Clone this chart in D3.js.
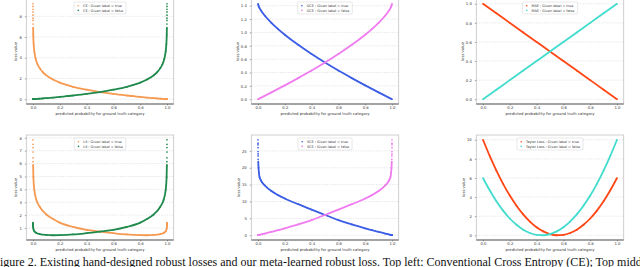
<!DOCTYPE html>
<html>
<head>
<meta charset="utf-8">
<script src="https://cdn.jsdelivr.net/npm/d3@7"></script>
<style>
  html, body { margin: 0; padding: 0; background: #fff; }
  svg { display: block; }
</style>
</head>
<body>
<svg id="chart" width="640" height="267"></svg>
<script>
// -------------------------------------------------------------------------
// Data

const xTickValues = [0.0, 0.2, 0.4, 0.6, 0.8, 1.0];
const xLabel = 'predicted probability for ground truth category';
const yLabel = 'loss value';

// CE
const ceProb = [0.0001, 0.00013, 0.00017, 0.00022, 0.0003, 0.0004, 0.0005, 0.0007, 0.001, 0.002, 0.005, 0.01, 0.02,
  0.035, 0.05, 0.075, 0.1, 0.15, 0.2, 0.25, 0.3, 0.4, 0.5, 0.6, 0.7, 0.75, 0.8, 0.85, 0.9, 0.925, 0.95, 0.965,
  0.98, 0.99, 0.995, 0.998, 0.999, 0.9993, 0.9995, 0.9996, 0.9997, 0.99978, 0.99983, 0.99987, 0.9999];
const ceLossTrue = [9.21, 8.95, 8.68, 8.42, 8.11, 7.82, 7.6, 7.26, 6.91, 6.21, 5.3, 4.61, 3.91,
  3.35, 3.0, 2.59, 2.3, 1.9, 1.61, 1.39, 1.2, 0.92, 0.69, 0.51, 0.36, 0.29, 0.22, 0.16, 0.11, 0.08, 0.05, 0.04,
  0.02, 0.01, 0.005, 0.002, 0.001, 0.0007, 0.0005, 0.0004, 0.0003, 0.0002, 0.0002, 0.0001, 0.0001];
const ceLossFalse = [0.0001, 0.0001, 0.0002, 0.0002, 0.0003, 0.0004, 0.0005, 0.0007, 0.001, 0.002, 0.005, 0.01, 0.02,
  0.04, 0.05, 0.08, 0.11, 0.16, 0.22, 0.29, 0.36, 0.51, 0.69, 0.92, 1.2, 1.39, 1.61, 1.9, 2.3, 2.59, 3.0, 3.35,
  3.91, 4.61, 5.3, 6.21, 6.91, 7.26, 7.6, 7.82, 8.11, 8.42, 8.68, 8.95, 9.21];
const ceYTicks = [0, 2, 4, 6, 8];

// GCE
const gceProbTrue = [0.0, 0.005, 0.01, 0.02, 0.05, 0.1, 0.15, 0.2, 0.3, 0.4, 0.5, 0.6, 0.7, 0.8, 0.9, 1.0];
const gceLossTrue = [1.429, 1.394, 1.372, 1.336, 1.253, 1.144, 1.05, 0.966, 0.814, 0.676, 0.549, 0.429, 0.316, 0.207, 0.102, 0.0];
const gceProbFalse = [0.0, 0.1, 0.2, 0.3, 0.4, 0.5, 0.6, 0.7, 0.8, 0.85, 0.9, 0.95, 0.98, 0.99, 0.995, 1.0];
const gceLossFalse = [0.0, 0.102, 0.207, 0.316, 0.429, 0.549, 0.676, 0.814, 0.966, 1.05, 1.144, 1.253, 1.336, 1.372, 1.394, 1.429];
const gceYTicks = [0.0, 0.2, 0.4, 0.6, 0.8, 1.0, 1.2, 1.4];

// MAE
const maeProb = [0.0, 0.1, 0.2, 0.3, 0.4, 0.5, 0.6, 0.7, 0.8, 0.9, 1.0];
const maeLossTrue = [1.0, 0.9, 0.8, 0.7, 0.6, 0.5, 0.4, 0.3, 0.2, 0.1, 0.0];
const maeLossFalse = [0.0, 0.1, 0.2, 0.3, 0.4, 0.5, 0.6, 0.7, 0.8, 0.9, 1.0];
const maeYTicks = [0.0, 0.2, 0.4, 0.6, 0.8, 1.0];

// LS
const lsProb = [0.0001, 0.00015, 0.0002, 0.0003, 0.0005, 0.0007, 0.001, 0.003, 0.01, 0.025, 0.05, 0.1, 0.15, 0.2,
  0.3, 0.4, 0.5, 0.6, 0.7, 0.8, 0.85, 0.9, 0.95, 0.975, 0.99, 0.997, 0.999, 0.9993, 0.9995, 0.9997, 0.9998,
  0.99985, 0.9999];
const lsLossTrue = [7.85, 7.5, 7.25, 6.9, 6.45, 6.15, 5.9, 4.95, 3.95, 3.2, 2.65, 2.05, 1.7, 1.42,
  1.08, 0.85, 0.72, 0.6, 0.5, 0.45, 0.44, 0.46, 0.53, 0.62, 0.75, 0.93, 1.09, 1.14, 1.2, 1.26, 1.33,
  1.37, 1.42];
const lsLossFalse = [1.42, 1.37, 1.33, 1.26, 1.2, 1.14, 1.09, 0.93, 0.75, 0.62, 0.53, 0.46, 0.44, 0.45,
  0.5, 0.6, 0.72, 0.85, 1.08, 1.42, 1.7, 2.05, 2.65, 3.2, 3.95, 4.95, 5.9, 6.15, 6.45, 6.9, 7.25,
  7.5, 7.85];
const lsYTicks = [1, 2, 3, 4, 5, 6, 7, 8];

// SCE
const sceProb = [0.0001, 0.00015, 0.0002, 0.0003, 0.0005, 0.0007, 0.001, 0.0015, 0.002, 0.004, 0.007, 0.012, 0.02,
  0.03, 0.05, 0.1, 0.15, 0.2, 0.3, 0.4, 0.5, 0.6, 0.7, 0.8, 0.85, 0.9, 0.95, 0.97, 0.98, 0.988, 0.993, 0.996,
  0.998, 0.9985, 0.999, 0.9993, 0.9995, 0.9997, 0.9998, 0.99985, 0.9999];
const sceLossTrue = [28.3, 27.3, 26.8, 26.0, 24.8, 24.1, 23.5, 22.5, 21.8, 20.0, 18.5, 17.2, 16.4,
  15.7, 14.8, 13.1, 11.9, 10.9, 9.2, 7.6, 6.0, 4.5, 3.2, 2.05, 1.5, 1.0, 0.5, 0.3, 0.2, 0.12, 0.07, 0.04,
  0.02, 0.015, 0.01, 0.007, 0.005, 0.003, 0.002, 0.0015, 0.001];
const sceLossFalse = [0.001, 0.0015, 0.002, 0.003, 0.005, 0.007, 0.01, 0.015, 0.02, 0.04, 0.07, 0.12, 0.2,
  0.3, 0.5, 1.0, 1.5, 2.05, 3.2, 4.5, 6.0, 7.6, 9.2, 10.9, 11.9, 13.1, 14.8, 15.7, 16.4, 17.2, 18.5, 20.0,
  21.8, 22.5, 23.5, 24.1, 24.8, 26.0, 26.8, 27.3, 28.3];
const sceYTicks = [0, 5, 10, 15, 20, 25];

// Taylor
const taylorProb = [0.0, 0.05, 0.1, 0.15, 0.2, 0.25, 0.3, 0.35, 0.4, 0.45, 0.5,
  0.55, 0.6, 0.65, 0.7, 0.75, 0.8, 0.85, 0.9, 0.95, 1.0];
const taylorLossTrue = [10.0, 8.31, 6.77, 5.39, 4.16, 3.1, 2.19, 1.44, 0.84, 0.41, 0.13,
  0.01, 0.04, 0.24, 0.59, 1.1, 1.76, 2.59, 3.57, 4.71, 6.0];
const taylorLossFalse = [6.0, 4.71, 3.57, 2.59, 1.76, 1.1, 0.59, 0.24, 0.04, 0.01, 0.13,
  0.41, 0.84, 1.44, 2.19, 3.1, 4.16, 5.39, 6.77, 8.31, 10.0];
const taylorYTicks = [0, 2, 4, 6, 8, 10];

const caption = 'Figure 2. Existing hand-designed robust losses and our meta-learned robust loss. ' +
  'Top left: Conventional Cross Entropy (CE); Top middle: Generalized Cross Entropy (GCE)';

// -------------------------------------------------------------------------
// Layout

const colors = {
  orange: '#f69a52', green: '#1f8a4c', blue: '#3b5de6',
  violet: '#f07cf0', red: '#ff4614', turquoise: '#42dccd'
};
const panelWidth = 147.4;
const panelHeight = 105;
const colLeft = [26.3, 251.3, 476.3];
const rowTop = [-1, 135];
const tickFont = 3.8;
const legendFont = 3.4;
const font = '"DejaVu Sans", sans-serif';

const fmt1 = d3.format('.1f');
const fmtInt = d3.format('d');

// lineMax: above this the scatter gets sparse, so only dots are drawn there
const panels = [
  { row: 0, col: 0, yTicks: ceYTicks, yFormat: fmtInt, lineMax: 7.0, series: [
    { prob: ceProb, loss: ceLossTrue, color: colors.orange, label: 'CE : Given label = true' },
    { prob: ceProb, loss: ceLossFalse, color: colors.green, label: 'CE : Given label = false' }] },
  { row: 0, col: 1, yTicks: gceYTicks, yFormat: fmt1, lineMax: Infinity, series: [
    { prob: gceProbTrue, loss: gceLossTrue, color: colors.blue, label: 'GCE : Given label = true' },
    { prob: gceProbFalse, loss: gceLossFalse, color: colors.violet, label: 'GCE : Given label = false' }] },
  { row: 0, col: 2, yTicks: maeYTicks, yFormat: fmt1, lineMax: Infinity, series: [
    { prob: maeProb, loss: maeLossTrue, color: colors.red, label: 'MAE : Given label = true' },
    { prob: maeProb, loss: maeLossFalse, color: colors.turquoise, label: 'MAE : Given label = false' }] },
  { row: 1, col: 0, yTicks: lsYTicks, yFormat: fmtInt, lineMax: 6.0, series: [
    { prob: lsProb, loss: lsLossTrue, color: colors.orange, label: 'LS : Given label = true' },
    { prob: lsProb, loss: lsLossFalse, color: colors.green, label: 'LS : Given label = false' }] },
  { row: 1, col: 1, yTicks: sceYTicks, yFormat: fmtInt, lineMax: 22.0, series: [
    { prob: sceProb, loss: sceLossTrue, color: colors.blue, label: 'SCE : Given label = true' },
    { prob: sceProb, loss: sceLossFalse, color: colors.violet, label: 'SCE : Given label = false' }] },
  { row: 1, col: 2, yTicks: taylorYTicks, yFormat: fmtInt, lineMax: Infinity, series: [
    { prob: taylorProb, loss: taylorLossTrue, color: colors.red, label: 'Taylor Loss : Given label = true' },
    { prob: taylorProb, loss: taylorLossFalse, color: colors.turquoise, label: 'Taylor Loss : Given label = false' }] }
];

const svg = d3.select('#chart');

// pad an extent by 5% each side, like matplotlib autoscale
function padded(values) {
  const [lo, hi] = d3.extent(values);
  const pad = (hi - lo) * 0.05;
  return [lo - pad, hi + pad];
}

function styleAxis(axisGroup) {
  axisGroup.attr('font-size', null).attr('font-family', null);
  axisGroup.select('.domain').remove();
  axisGroup.selectAll('line').attr('stroke', '#555').attr('stroke-width', 0.5);
  axisGroup.selectAll('text')
    .attr('fill', '#333')
    .style('font-size', tickFont + 'px')
    .style('font-family', font);
}

function drawPanel(panel) {
  const left = colLeft[panel.col];
  const top = rowTop[panel.row];
  const g = svg.append('g').attr('transform', `translate(${left},${top})`);

  const x = d3.scaleLinear()
    .domain(padded(panel.series.flatMap(s => s.prob)))
    .range([0, panelWidth]);
  const y = d3.scaleLinear()
    .domain(padded(panel.series.flatMap(s => s.loss)))
    .range([panelHeight, 0]);

  // horizontal dashed grid
  g.append('g')
    .selectAll('line')
    .data(panel.yTicks)
    .enter()
    .append('line')
    .attr('x1', 0)
    .attr('x2', panelWidth)
    .attr('y1', d => y(d))
    .attr('y2', d => y(d))
    .attr('stroke', '#d6d6d6')
    .attr('stroke-width', 0.6)
    .attr('stroke-dasharray', '1.4,1.2');

  // frame
  g.append('rect')
    .attr('width', panelWidth)
    .attr('height', panelHeight)
    .attr('fill', 'none')
    .attr('stroke', '#c4c4c4')
    .attr('stroke-width', 0.8);
  g.append('line')
    .attr('x1', 0)
    .attr('x2', panelWidth)
    .attr('y1', panelHeight)
    .attr('y2', panelHeight)
    .attr('stroke', '#8c8c8c')
    .attr('stroke-width', 1.3);

  // axes
  const yAxis = g.append('g').call(
    d3.axisLeft(y).tickValues(panel.yTicks).tickFormat(panel.yFormat).tickSize(1.5).tickPadding(3)
  );
  styleAxis(yAxis);
  const xAxis = g.append('g')
    .attr('transform', `translate(0,${panelHeight})`)
    .call(d3.axisBottom(x).tickValues(xTickValues).tickFormat(fmt1).tickSize(1.5).tickPadding(1.2));
  styleAxis(xAxis);

  const tickWidth = d3.max(yAxis.selectAll('text').nodes(), n => n.getBBox().width);

  g.append('text')
    .attr('x', panelWidth / 2)
    .attr('y', panelHeight + 11.4)
    .attr('text-anchor', 'middle')
    .attr('fill', '#333')
    .style('font-size', tickFont + 'px')
    .style('font-family', font)
    .text(xLabel);

  const yLabelX = -(1.5 + 3 + tickWidth + 2.8) + 1.4;
  g.append('text')
    .attr('transform', `translate(${yLabelX},${panelHeight / 2}) rotate(-90)`)
    .attr('text-anchor', 'middle')
    .attr('fill', '#333')
    .style('font-size', tickFont + 'px')
    .style('font-family', font)
    .text(yLabel);

  // curves
  const line = d3.line()
    .x(d => x(d[0]))
    .y(d => y(d[1]))
    .curve(d3.curveMonotoneX);

  panel.series.forEach(s => {
    const pts = s.prob.map((p, i) => [p, s.loss[i]]);
    g.append('path')
      .attr('d', line(pts.filter(d => d[1] <= panel.lineMax)))
      .attr('fill', 'none')
      .attr('stroke', s.color)
      .attr('stroke-width', 1.8)
      .attr('stroke-linejoin', 'round');
    g.append('g')
      .selectAll('circle')
      .data(pts)
      .enter()
      .append('circle')
      .attr('cx', d => x(d[0]))
      .attr('cy', d => y(d[1]))
      .attr('r', 0.85)
      .attr('fill', s.color);
  });

  // legend, upper center
  const lg = g.append('g');
  const box = lg.append('rect')
    .attr('fill', '#fff')
    .attr('fill-opacity', 0.85)
    .attr('stroke', '#d0d0d0')
    .attr('stroke-width', 0.5)
    .attr('rx', 0.8);
  const rows = lg.selectAll('.row')
    .data(panel.series)
    .enter()
    .append('g')
    .attr('transform', (d, i) => `translate(0,${3.8 + i * 4.6})`);
  rows.append('circle')
    .attr('cx', 4.2)
    .attr('cy', 0)
    .attr('r', 0.8)
    .attr('fill', d => d.color);
  rows.append('text')
    .attr('x', 9)
    .attr('y', legendFont * 0.36)
    .attr('fill', '#333')
    .style('font-size', legendFont + 'px')
    .style('font-family', font)
    .text(d => d.label);
  const textWidth = d3.max(rows.selectAll('text').nodes(), n => n.getComputedTextLength());
  const boxWidth = 9 + textWidth + 3;
  box.attr('width', boxWidth).attr('height', 12);
  lg.attr('transform', `translate(${(panelWidth - boxWidth) / 2},3)`);
}

panels.forEach(drawPanel);

// caption, cut off at both sides like the source crop
const cap = svg.append('text')
  .attr('y', 266)
  .attr('fill', '#111')
  .style('font-family', '"Liberation Serif", "Times New Roman", serif')
  .style('font-size', '12px')
  .text(caption);
const capNode = cap.node();
const firstW = capNode.getSubStringLength(0, 1);
const endIdx = caption.indexOf('Top middle') + 8;
const endW = capNode.getSubStringLength(0, endIdx);
const scale = 642 / (endW - firstW);
cap.style('font-size', (12 * scale) + 'px')
  .attr('x', -firstW * scale);
</script>
</body>
</html>
